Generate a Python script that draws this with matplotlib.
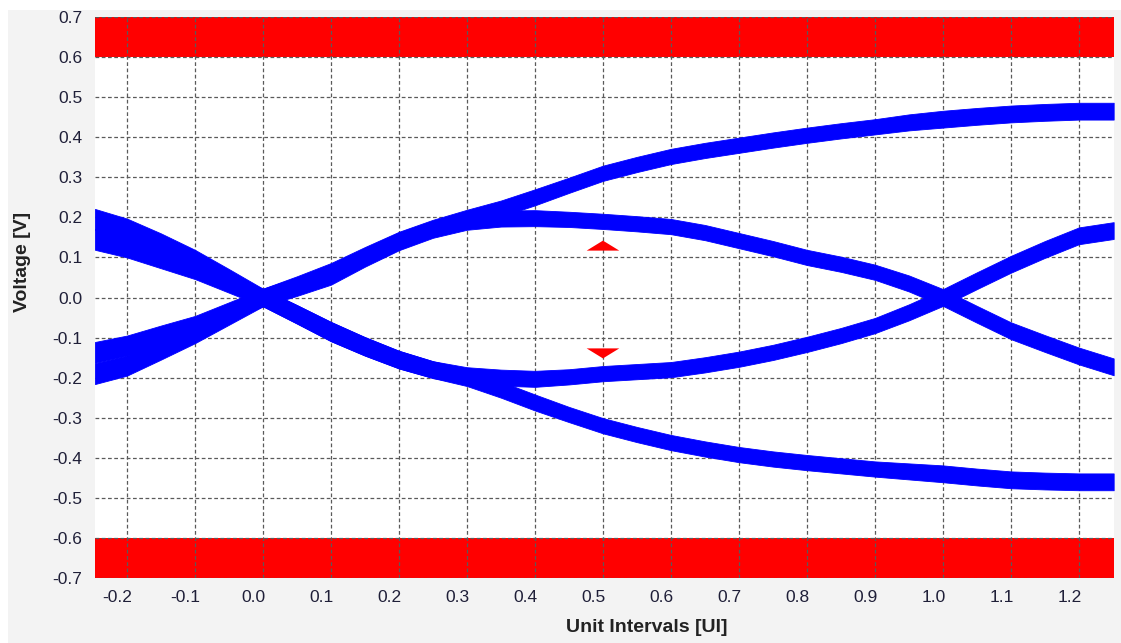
import numpy as np
import matplotlib
matplotlib.use("Agg")
import matplotlib.pyplot as plt
from matplotlib.patches import Polygon, Rectangle
from matplotlib.transforms import ScaledTranslation

# ---------------- data ----------------
ui = [-0.247, -0.2, -0.15, -0.1, -0.05, 0.0, 0.05, 0.1, 0.15, 0.2, 0.25, 0.3, 0.35, 0.4, 0.45, 0.5,
      0.55, 0.6, 0.65, 0.7, 0.75, 0.8, 0.85, 0.9, 0.95, 1.0, 1.05, 1.1, 1.15, 1.2, 1.251]
upper_rail = [-0.19, -0.17, -0.13, -0.09, -0.045, 0.0, 0.03, 0.062, 0.103, 0.142, 0.173, 0.198, 0.222, 0.25, 0.28, 0.31,
              0.332, 0.352, 0.367, 0.38, 0.393, 0.405, 0.416, 0.426, 0.437, 0.445, 0.452, 0.458, 0.462, 0.465, 0.465]
upper_inner = [-0.137, -0.12, -0.095, -0.07, -0.035, 0.0, 0.027, 0.056, 0.1, 0.14, 0.17, 0.19, 0.197, 0.198, 0.195, 0.19,
               0.184, 0.177, 0.162, 0.142, 0.122, 0.1, 0.083, 0.063, 0.035, 0.0, -0.042, -0.083, -0.115, -0.146, -0.173]
lower_inner = [0.145, 0.125, 0.098, 0.07, 0.035, 0.0, -0.042, -0.085, -0.122, -0.155, -0.18, -0.195, -0.2, -0.203, -0.198, -0.19,
               -0.185, -0.18, -0.168, -0.154, -0.137, -0.117, -0.095, -0.07, -0.037, 0.0, 0.042, 0.083, 0.12, 0.154, 0.167]
lower_rail = [0.195, 0.172, 0.135, 0.095, 0.048, 0.0, -0.042, -0.085, -0.122, -0.155, -0.18, -0.2, -0.23, -0.262, -0.292, -0.32,
              -0.342, -0.362, -0.378, -0.392, -0.403, -0.412, -0.42, -0.428, -0.434, -0.44, -0.448, -0.455, -0.458, -0.46, -0.46]
band_half_width = [0.026, 0.025, 0.025, 0.024, 0.023, 0.022, 0.023, 0.024, 0.023, 0.022, 0.021, 0.021, 0.02, 0.02, 0.019, 0.019,
                   0.019, 0.019, 0.019, 0.019, 0.019, 0.019, 0.019, 0.019, 0.02, 0.021, 0.021, 0.021, 0.021, 0.021, 0.021]

mask_limit = 0.6
axis_limit = 0.7
eye_center = 0.5
eye_tri_half_width = 0.024
eye_up_base, eye_up_tip = 0.117, 0.142
eye_down_base, eye_down_tip = -0.127, -0.152

x_ticks = [-0.2, -0.1, 0.0, 0.1, 0.2, 0.3, 0.4, 0.5, 0.6, 0.7, 0.8, 0.9, 1.0, 1.1, 1.2]
x_tick_labels = ["-0.2", "-0.1", "0.0", "0.1", "0.2", "0.3", "0.4", "0.5", "0.6", "0.7", "0.8", "0.9", "1.0", "1.1", "1.2"]
y_ticks = [0.7, 0.6, 0.5, 0.4, 0.3, 0.2, 0.1, 0.0, -0.1, -0.2, -0.3, -0.4, -0.5, -0.6, -0.7]
y_tick_labels = ["0.7", "0.6", "0.5", "0.4", "0.3", "0.2", "0.1", "0.0", "-0.1", "-0.2", "-0.3", "-0.4", "-0.5", "-0.6", "-0.7"]
x_range = (-0.247, 1.2515)

# ---------------- figure ----------------
plt.rcParams['font.family'] = ['Liberation Sans', 'DejaVu Sans']
W, H = 1121, 643
fig = plt.figure(figsize=(W / 100, H / 100), dpi=100, facecolor="white")
fig.patches.append(Rectangle((8 / W, 0), 1 - 8 / W, 1 - 10 / H, transform=fig.transFigure,
                             facecolor="#f3f3f3", edgecolor="none", zorder=-5))

ax = fig.add_axes([95 / W, (H - 578) / H, 1019 / W, 561 / H])
ax.set_zorder(1)
ax.set_facecolor("white")
ax.set_xlim(*x_range)
ax.set_ylim(-axis_limit, axis_limit)
for s in ax.spines.values():
    s.set_visible(False)

# red mask regions
ax.fill_between(x_range, mask_limit, axis_limit, color="#ff0000", lw=0, zorder=1)
ax.fill_between(x_range, -axis_limit, -mask_limit, color="#ff0000", lw=0, zorder=1)

# grid
ax.set_axisbelow('line')
ax.set_xticks(x_ticks)
ax.set_xticklabels(x_tick_labels)
ax.set_yticks(y_ticks)
ax.set_yticklabels(y_tick_labels)
ax.grid(True, color="#5a5a5a", linestyle=(0, (3, 2)), linewidth=0.9)

# eye traces
x = np.array(ui)
hw = np.array(band_half_width)
for trace in (upper_rail, upper_inner, lower_inner, lower_rail):
    c = np.array(trace)
    ax.fill_between(x, c - hw, c + hw, facecolor="#0000ff", edgecolor="#0000ff", lw=0.6, zorder=2)

# eye mask triangles
tri_up = Polygon([[eye_center - eye_tri_half_width, eye_up_base],
                  [eye_center + eye_tri_half_width, eye_up_base],
                  [eye_center, eye_up_tip]], closed=True, facecolor="#ff0000", edgecolor="none", zorder=3)
tri_dn = Polygon([[eye_center - eye_tri_half_width, eye_down_base],
                  [eye_center + eye_tri_half_width, eye_down_base],
                  [eye_center, eye_down_tip]], closed=True, facecolor="#ff0000", edgecolor="none", zorder=3)
ax.add_patch(tri_up)
ax.add_patch(tri_dn)

# ticks & labels
ax.tick_params(axis="both", length=0, labelsize=12.5, labelcolor="#1f1f38")
ax.tick_params(axis="x", pad=9)
ax.tick_params(axis="y", pad=9)
offset = ScaledTranslation(-9.5 / 100, 0, fig.dpi_scale_trans)
for lab in ax.get_xticklabels():
    lab.set_transform(lab.get_transform() + offset)

ax.set_xlabel("Unit Intervals [UI]", fontsize=14, fontweight="bold", color="#222222")
ax.xaxis.set_label_coords(0.541, -0.089)
ax.xaxis.label.set_va("center")
ax.set_ylabel("Voltage [V]", fontsize=14, fontweight="bold", color="#222222")
ax.yaxis.set_label_coords(-0.0716, 0.563)
ax.yaxis.label.set_va("center")

fig.savefig("out.png", dpi=100, facecolor=fig.get_facecolor())
